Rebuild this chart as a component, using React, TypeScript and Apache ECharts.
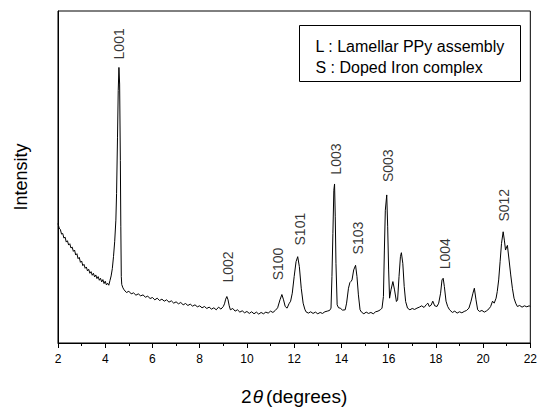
import React, { useEffect, useRef } from "react";
import * as echarts from "echarts";

const twoTheta = [
  2.0, 2.05, 2.1, 2.15, 2.2, 2.25, 2.3, 2.35, 2.4, 2.45, 2.5, 2.55, 2.6, 2.65, 2.7, 2.75, 2.8, 2.85, 2.9, 2.95,
  3.0, 3.05, 3.1, 3.15, 3.2, 3.25, 3.3, 3.35, 3.4, 3.45, 3.5, 3.55, 3.6, 3.65, 3.7, 3.75, 3.8, 3.85, 3.9, 3.95,
  4.0, 4.05, 4.1, 4.15, 4.2, 4.25, 4.3, 4.35, 4.4, 4.45, 4.48, 4.52, 4.55, 4.58, 4.61, 4.64, 4.66, 4.68, 4.7, 4.75,
  4.8, 4.9, 5.0, 5.1, 5.2, 5.3, 5.4, 5.5, 5.6, 5.7, 5.8, 5.9, 6.0, 6.1, 6.2, 6.3, 6.4, 6.5, 6.6, 6.7,
  6.8, 6.9, 7.0, 7.1, 7.2, 7.3, 7.4, 7.5, 7.6, 7.7, 7.8, 7.9, 8.0, 8.1, 8.2, 8.3, 8.4, 8.5, 8.6, 8.7,
  8.8, 8.9, 9.0, 9.05, 9.1, 9.15, 9.2, 9.25, 9.3, 9.4, 9.5, 9.6, 9.7, 9.8, 9.9, 10.0, 10.1, 10.2, 10.3, 10.4,
  10.5, 10.6, 10.7, 10.8, 10.9, 11.0, 11.1, 11.2, 11.3, 11.4, 11.48, 11.55, 11.62, 11.7, 11.78, 11.85, 11.92, 12.0, 12.08, 12.15,
  12.22, 12.3, 12.38, 12.45, 12.5, 12.6, 12.7, 12.8, 12.9, 13.0, 13.1, 13.2, 13.3, 13.4, 13.5, 13.56, 13.6, 13.64, 13.68, 13.71,
  13.74, 13.77, 13.82, 13.88, 13.95, 14.05, 14.16, 14.22, 14.3, 14.36, 14.4, 14.45, 14.52, 14.6, 14.66, 14.72, 14.79, 14.85, 14.95, 15.05,
  15.15, 15.25, 15.35, 15.45, 15.55, 15.65, 15.72, 15.78, 15.82, 15.86, 15.92, 15.96, 16.0, 16.04, 16.1, 16.18, 16.25, 16.33, 16.38, 16.44,
  16.5, 16.54, 16.6, 16.66, 16.72, 16.8, 16.9, 17.0, 17.1, 17.2, 17.3, 17.4, 17.5, 17.6, 17.66, 17.72, 17.8, 17.87, 17.95, 18.05,
  18.12, 18.2, 18.26, 18.31, 18.36, 18.43, 18.5, 18.58, 18.7, 18.8, 18.9, 19.0, 19.1, 19.2, 19.3, 19.4, 19.49, 19.57, 19.63, 19.7,
  19.77, 19.85, 19.95, 20.05, 20.15, 20.25, 20.32, 20.4, 20.47, 20.55, 20.6, 20.66, 20.72, 20.78, 20.85, 20.9, 20.95, 21.0, 21.03, 21.1,
  21.17, 21.24, 21.31, 21.38, 21.45, 21.55, 21.65, 21.75, 21.85, 21.95, 22.0,
];

const intensity = [
  36.0, 34.6, 34.2, 32.8, 33.0, 31.6, 31.9, 30.4, 30.8, 29.5, 29.9, 28.6, 28.9, 27.6, 28.0, 26.5, 26.9, 25.4, 25.8, 24.3,
  24.7, 23.3, 23.7, 22.5, 22.9, 21.7, 22.2, 21.0, 21.5, 20.4, 21.0, 19.9, 20.5, 19.4, 20.0, 18.9, 19.5, 18.4, 19.1, 17.9,
  18.6, 17.5, 18.0, 17.4, 18.8, 20.2, 22.4, 26.0, 30.5, 37.0, 45.0, 62.0, 76.0, 83.0, 78.0, 55.0, 35.0, 20.0, 17.6, 16.6,
  16.0, 15.2, 15.6, 14.8, 15.1, 14.4, 14.8, 14.2, 14.5, 13.8, 14.1, 13.4, 13.7, 13.0, 13.5, 12.8, 13.2, 12.6, 13.0, 12.3,
  12.7, 12.0, 12.4, 11.8, 12.2, 11.5, 11.9, 11.3, 11.7, 11.1, 11.5, 10.9, 11.2, 10.6, 11.0, 10.4, 10.8, 10.2, 10.6, 10.0,
  10.8, 10.2, 11.0, 11.8, 13.2, 14.0, 13.0, 11.2, 10.0, 10.4, 9.6, 10.0, 9.3, 9.7, 9.1, 9.5, 8.9, 9.4, 8.8, 9.3,
  8.7, 9.2, 8.8, 9.3, 9.0, 9.6, 9.2, 9.8, 10.6, 13.0, 14.6, 13.0, 11.0, 10.5, 11.8, 12.6, 15.0, 20.0, 24.5, 26.0,
  23.0, 16.5, 12.0, 10.2, 9.4, 9.0, 9.4, 8.9, 9.3, 8.8, 9.2, 8.9, 9.4, 9.6, 9.8, 10.5, 20.0, 33.0, 46.0, 47.9,
  38.0, 24.0, 11.5, 10.6, 10.5, 9.9, 10.0, 12.0, 16.5, 18.2, 18.5, 19.0, 22.0, 23.4, 20.0, 14.5, 10.0, 9.3, 8.8, 9.3,
  8.9, 9.2, 8.8, 9.4, 9.6, 10.0, 10.5, 14.0, 28.0, 40.0, 44.6, 35.0, 22.0, 13.5, 16.0, 18.5, 16.0, 12.5, 13.0, 20.0,
  26.0, 27.2, 24.0, 17.0, 12.5, 10.5, 10.0, 10.4, 10.1, 10.5, 10.8, 11.2, 10.7, 11.6, 12.0, 11.0, 11.4, 12.6, 11.2, 11.0,
  12.0, 15.0, 19.0, 19.5, 17.0, 12.6, 11.0, 10.0, 9.2, 9.6, 9.0, 9.4, 9.1, 9.5, 9.8, 10.5, 12.6, 15.0, 16.5, 13.0,
  10.0, 9.5, 9.8, 9.3, 9.7, 10.3, 11.0, 12.6, 12.0, 13.5, 15.5, 19.0, 24.5, 30.0, 33.5, 31.0, 28.0, 29.0, 29.4, 25.0,
  20.5, 16.5, 13.5, 12.0, 11.0, 11.3, 10.8, 11.2, 10.9, 11.2, 11.0,
];

const peakNames = ["L001", "L002", "S100", "S101", "L003", "S103", "S003", "L004", "S012"];
const peakX = [4.57, 9.2, 11.3, 12.23, 13.77, 14.72, 15.98, 18.4, 20.9];
const peakY = [90.1, 22.9, 23.8, 34.3, 55.4, 31.6, 53.4, 26.9, 41.5];

const legendLines = ["L : Lamellar PPy assembly", "S : Doped Iron complex"];

const FONT = "'Liberation Sans', Arial, sans-serif";

export default function App() {
  const ref = useRef<HTMLDivElement>(null);
  useEffect(() => {
    if (!ref.current) return;
    const chart = echarts.init(ref.current, undefined, { renderer: "svg" });
    const lineData = twoTheta.map((x, i) => [x, intensity[i]]);
    const labelData = peakNames.map((n, i) => ({ name: n, value: [peakX[i], peakY[i]] }));
    chart.setOption({
      animation: false,
      backgroundColor: "#fff",
      grid: {
        left: 58,
        right: 7,
        top: 11,
        bottom: 66,
        show: true,
        borderColor: "#000",
        borderWidth: 1,
        backgroundColor: "transparent",
      },
      xAxis: {
        type: "value",
        min: 2,
        max: 22,
        interval: 2,
        name: "{a|2}{b|θ}{a|(degrees)}",
        nameLocation: "middle",
        nameGap: 44,
        nameTextStyle: {
          rich: {
            a: { fontSize: 19, fontFamily: FONT, color: "#000" },
            b: { fontSize: 19, fontFamily: FONT, fontStyle: "italic", color: "#000", padding: [0, 3, 0, 1] },
          },
        },
        axisLine: { show: true, lineStyle: { color: "#000", width: 1 } },
        axisTick: { show: true, inside: false, length: 5, lineStyle: { color: "#000" } },
        minorTick: { show: true, splitNumber: 2, length: 3, lineStyle: { color: "#000" } },
        axisLabel: { fontSize: 12, fontFamily: FONT, color: "#000", margin: 10 },
        splitLine: { show: false },
      },
      yAxis: {
        type: "value",
        min: 0,
        max: 100,
        name: "Intensity",
        nameLocation: "middle",
        nameGap: 28,
        nameTextStyle: { fontSize: 18, fontFamily: FONT, color: "#000" },
        axisLine: { show: true, lineStyle: { color: "#000", width: 1 } },
        axisTick: { show: false },
        axisLabel: { show: false },
        splitLine: { show: false },
      },
      series: [
        {
          type: "line",
          data: lineData,
          showSymbol: false,
          symbol: "none",
          lineStyle: { color: "#000", width: 1 },
          silent: true,
        },
        {
          type: "scatter",
          data: labelData,
          symbolSize: 1,
          itemStyle: { color: "rgba(0,0,0,0)" },
          label: {
            show: true,
            position: "inside",
            rotate: 90,
            formatter: "{b}",
            fontSize: 14,
            fontFamily: FONT,
            color: "#000",
          },
          silent: true,
        },
      ],
      graphic: [
        {
          type: "group",
          left: 299,
          top: 25,
          children: [
            {
              type: "rect",
              shape: { x: 0, y: 0, width: 221, height: 56 },
              style: { fill: "#fff", stroke: "#000", lineWidth: 1 },
            },
            {
              type: "text",
              x: 16,
              y: 20.5,
              style: {
                text: legendLines[0],
                font: `16px ${FONT}`,
                fill: "#000",
                textVerticalAlign: "middle",
                verticalAlign: "middle",
              },
            },
            {
              type: "text",
              x: 16,
              y: 41.5,
              style: {
                text: legendLines[1],
                font: `16px ${FONT}`,
                fill: "#000",
                textVerticalAlign: "middle",
                verticalAlign: "middle",
              },
            },
          ],
        },
      ],
    });
    return () => chart.dispose();
  }, []);
  return (
    <div
      ref={ref}
      style={{ position: "fixed", left: 0, top: 0, width: 540, height: 411, background: "#fff" }}
    />
  );
}
